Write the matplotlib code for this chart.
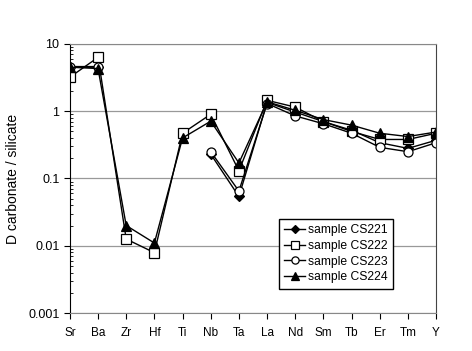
import numpy as np
import matplotlib.pyplot as plt
from matplotlib.ticker import LogLocator, NullFormatter, FixedLocator

plt.rcParams['font.family'] = ['Liberation Sans', 'DejaVu Sans']

elements = ['Sr', 'Ba', 'Zr', 'Hf', 'Ti', 'Nb', 'Ta', 'La', 'Nd', 'Sm', 'Tb', 'Er', 'Tm', 'Y']
nan = np.nan
cs221 = [4.5, 4.5, nan, nan, nan, 0.23, 0.054, 1.35, 0.97, 0.70, 0.52, 0.34, 0.28, 0.37]
cs222 = [3.2, 6.3, 0.0126, 0.0079, 0.47, 0.90, 0.13, 1.45, 1.15, 0.70, 0.50, 0.38, 0.38, 0.47]
cs223 = [4.6, 4.6, nan, nan, nan, 0.25, 0.065, 1.30, 0.85, 0.65, 0.47, 0.29, 0.25, 0.34]
cs224 = [4.5, 4.3, 0.020, 0.011, 0.40, 0.71, 0.17, 1.38, 1.03, 0.75, 0.62, 0.47, 0.42, 0.49]

series = [
    ('sample CS221', cs221, 'D', 'black'),
    ('sample CS222', cs222, 's', 'white'),
    ('sample CS223', cs223, 'o', 'white'),
    ('sample CS224', cs224, '^', 'black'),
]

fig = plt.figure(figsize=(4.72, 3.51), dpi=100)
ax = fig.add_axes([0.148, 0.108, 0.776, 0.767])

x = np.arange(len(elements))
for label, vals, m, fc in series:
    ax.plot(x, vals, color='black', lw=1.0, marker=m, markersize=6.5 if m != 'D' else 5.5,
            markerfacecolor=fc, markeredgecolor='black', markeredgewidth=0.9, label=label)

ax.set_yscale('log')
ax.set_ylim(0.001, 10)
ax.set_xlim(0, len(elements) - 1)
ax.set_xticks(x)
ax.set_xticklabels(elements, fontsize=8.5)
ax.yaxis.set_major_locator(FixedLocator([0.001, 0.01, 0.1, 1, 10]))
ax.set_yticklabels(['0.001', '0.01', '0.1', '1', '10'], fontsize=9)
ax.yaxis.set_minor_locator(LogLocator(base=10, subs=np.arange(2, 10)))
ax.yaxis.set_minor_formatter(NullFormatter())
ax.tick_params(axis='y', which='major', direction='out', length=4, width=0.8)
ax.tick_params(axis='y', which='minor', direction='in', length=2.5, width=0.6)
ax.tick_params(axis='x', direction='out', length=4, width=0.8, pad=6)

ax.yaxis.grid(True, which='major', color='#999999', lw=0.9)
ax.set_axisbelow(True)
for side in ['top', 'right', 'bottom']:
    ax.spines[side].set_color('#888888')
ax.spines['left'].set_color('black')
ax.spines['right'].set_color('#444444')

ax.set_ylabel('D carbonate / silicate', fontsize=10, labelpad=6)

ax.legend(loc='lower right', bbox_to_anchor=(0.9, 0.068), fontsize=8.7, frameon=True,
          fancybox=False, edgecolor='black', framealpha=1, handlelength=1.7,
          handletextpad=0.3, borderpad=0.45, labelspacing=0.3, markerscale=0.8)

fig.savefig('out.png', dpi=100)
